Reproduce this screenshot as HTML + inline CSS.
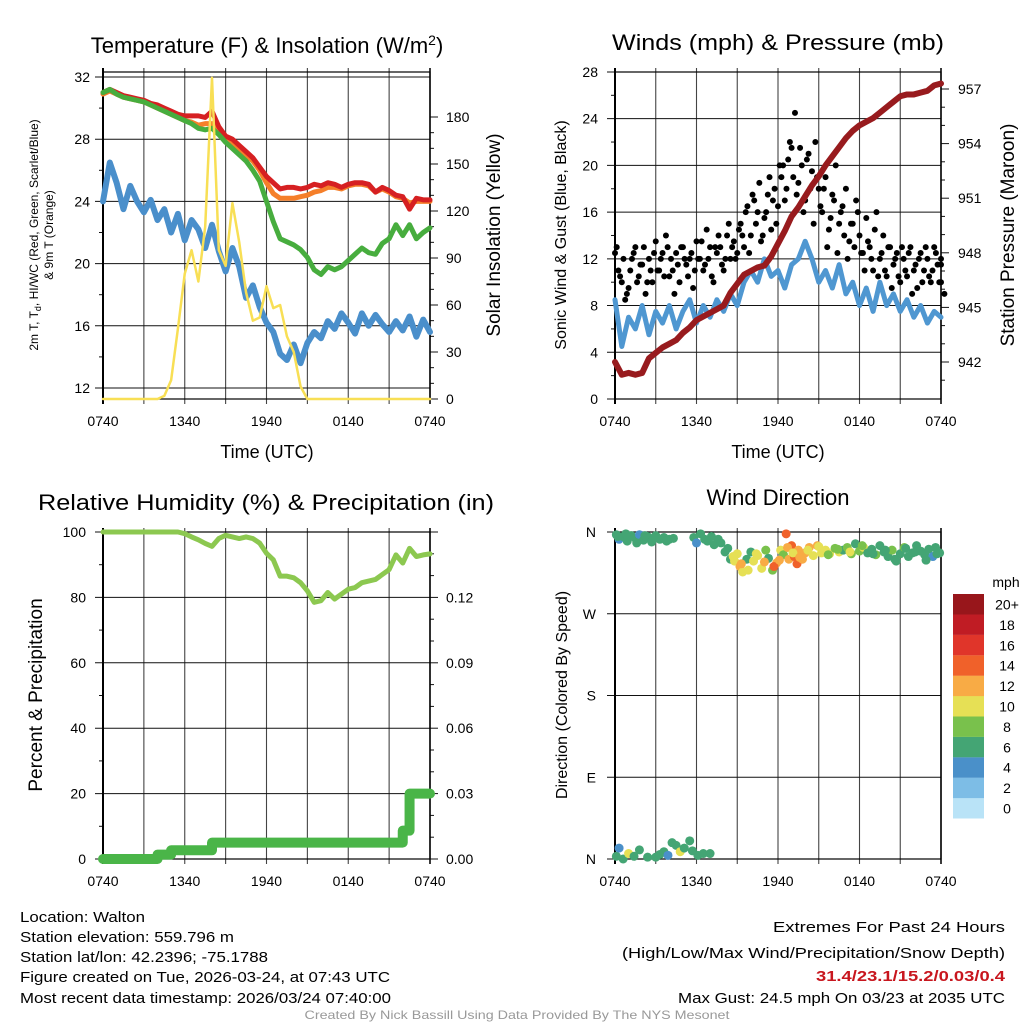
<!DOCTYPE html>
<html><head><meta charset="utf-8"><style>
html,body{margin:0;padding:0;background:#fff;}
svg{display:block;font-family:"Liberation Sans",Arial,sans-serif;}
</style></head><body>
<svg id="fig" width="1024" height="1024" viewBox="0 0 1024 1024" xmlns="http://www.w3.org/2000/svg">
<g id="titles" font-size="22" text-anchor="middle" fill="#000">
<text x="267" y="53">Temperature (F) &amp; Insolation (W/m<tspan dy="-8" font-size="14">2</tspan><tspan dy="8">)</tspan></text>
<text x="778" y="50" textLength="332" lengthAdjust="spacingAndGlyphs">Winds (mph) &amp; Pressure (mb)</text>
<text x="266" y="510" textLength="456" lengthAdjust="spacingAndGlyphs">Relative Humidity (%) &amp; Precipitation (in)</text>
<text x="778" y="505">Wind Direction</text>
</g>
<g id="footer" font-size="15" fill="#000">
<text x="20" y="922" textLength="125" lengthAdjust="spacingAndGlyphs">Location: Walton</text>
<text x="20" y="942" textLength="214" lengthAdjust="spacingAndGlyphs">Station elevation: 559.796 m</text>
<text x="20" y="962" textLength="248" lengthAdjust="spacingAndGlyphs">Station lat/lon: 42.2396; -75.1788</text>
<text x="20" y="982" textLength="370" lengthAdjust="spacingAndGlyphs">Figure created on Tue, 2026-03-24, at 07:43 UTC</text>
<text x="20" y="1003" textLength="371" lengthAdjust="spacingAndGlyphs">Most recent data timestamp: 2026/03/24 07:40:00</text>
<text x="1005" y="932" text-anchor="end" textLength="232" lengthAdjust="spacingAndGlyphs">Extremes For Past 24 Hours</text>
<text x="1005" y="958" text-anchor="end" textLength="383" lengthAdjust="spacingAndGlyphs">(High/Low/Max Wind/Precipitation/Snow Depth)</text>
<text x="1005" y="981" text-anchor="end" font-weight="bold" fill="#c8161e" textLength="189" lengthAdjust="spacingAndGlyphs">31.4/23.1/15.2/0.03/0.4</text>
<text x="1005" y="1003" text-anchor="end" textLength="327" lengthAdjust="spacingAndGlyphs">Max Gust: 24.5 mph On 03/23 at 2035 UTC</text>
<text x="517" y="1019" text-anchor="middle" font-size="12" fill="#999" textLength="425" lengthAdjust="spacingAndGlyphs">Created By Nick Bassill Using Data Provided By The NYS Mesonet</text>
</g>
</svg>
<script>
// ---- data (30-minute samples from 0740 UTC, hours 0..24) ----
const timeLabels = ["0740","1340","1940","0140","0740"];
const tempRed = [31.0,31.2,31.0,30.8,30.7,30.6,30.5,30.3,30.2,30.0,29.8,29.6,29.5,29.5,29.5,29.4,29.8,28.8,28.2,28.0,27.6,27.2,26.8,26.2,25.6,25.2,24.8,24.9,24.9,24.8,24.9,25.1,25.0,25.2,25.1,24.9,25.1,25.2,25.2,25.1,24.6,24.9,24.7,24.4,24.3,23.5,24.2,24.1,24.1];
const tempOrange = [30.9,31.1,30.9,30.7,30.6,30.5,30.4,30.2,30.0,29.8,29.6,29.4,29.2,29.1,28.9,29.0,29.0,28.6,28.0,27.8,27.4,27.0,26.6,26.0,25.2,24.5,24.2,24.2,24.2,24.3,24.4,24.6,24.7,24.9,24.9,24.8,25.0,25.1,25.1,25.0,24.6,24.8,24.6,24.3,24.2,23.9,24.0,24.0,24.0];
const tempGreen = [31.0,31.2,30.9,30.7,30.6,30.5,30.4,30.2,30.0,29.8,29.6,29.4,29.2,29.0,28.7,28.6,28.7,28.3,27.8,27.4,27.0,26.6,26.0,25.3,24.0,22.7,21.6,21.4,21.2,20.9,20.4,19.6,19.3,19.8,19.6,19.8,20.2,20.6,21.0,20.7,20.6,21.3,21.6,22.5,21.8,22.5,21.6,22.0,22.3];
const dewBlue = [24.0,26.5,25.2,23.5,25.0,24.0,23.3,24.1,22.8,23.5,22.0,23.2,21.5,22.8,22.2,21.0,22.5,20.8,19.5,21.0,19.8,17.8,18.6,17.2,16.2,15.6,14.2,13.8,14.8,13.6,14.9,15.6,15.2,16.3,15.8,16.8,16.2,15.5,16.8,16.0,16.7,16.1,15.6,16.3,15.7,16.6,15.3,16.4,15.6];
const solar = [0,0,0,0,0,0,0,0,0,2,12,45,80,95,75,110,205,95,85,125,100,68,50,52,72,58,60,40,30,8,0,0,0,0,0,0,0,0,0,0,0,0,0,0,0,0,0,0,0];
const pressure = [942.0,941.3,941.4,941.3,941.4,942.2,942.5,942.8,943.0,943.2,943.6,943.9,944.3,944.5,944.7,944.9,945.1,945.8,946.3,946.8,947.0,947.2,947.3,947.8,948.5,949.2,950.0,950.5,951.1,951.7,952.2,952.8,953.3,953.8,954.3,954.7,955.0,955.2,955.4,955.7,956.0,956.3,956.6,956.7,956.7,956.8,956.9,957.2,957.3];
const windSpeed = [8.5,4.5,7,6,8,5.5,7.5,6.5,8,6,7.5,8.5,6.5,8,7,8.5,7.5,9,8,10,11,10,12,10.5,11,9.5,11.5,12,13.5,12,10,11,9.5,11.5,9,10,8,9.5,7.5,10,8,9,7.5,8.5,7,8,6.5,7.5,7];
// gusts every 15 minutes, plus a second set offset by 7.5 minutes
const gusts = [12.5,11,10,8.5,9.5,12,13,10.5,11.5,9,12,10,13.5,
11,12.5,14,10.5,11,12.5,10,13,11.5,12,9.5,13.5,
12,11,14.5,13,10,12.5,13,11,14,12,13.5,12.5,
15,13,16.5,14,17,16,13.5,15.5,17.5,14.5,18,16.5,
19,17,20.5,21.5,24.5,18.5,20,17,21,19.5,22,18,
16,19,14.5,17.5,20,15,16.5,18,13.5,15,17,14,
12.5,15.5,13,11,16,12,14,10.5,13,11.5,12.5,10,
12,10.5,13,11,9.5,12.5,11,12,10,13,11.5,12,9];
const gustsOffset = [13,10.5,12,9,11,12.5,10,11.5,13,10,11,12.5,11,
12,10.5,13,12,9,11.5,13,12,10.5,12.5,11,12,
13.5,11.5,12,10.5,13,14,11.5,12,15,13,12,14.5,
14,16,12.5,17.5,15,18.5,14,16,19,17,15,20,
20,18,22,19,17.5,21.5,16,20.5,18,15,19,16.5,
18,13,15.5,17,12.5,16,14,12,15,13,16,12.5,
11,13.5,12,14.5,10.5,12.5,11,13,9.5,12,10.5,13,
11,12.5,9,11.5,12,10,13,10.5,11,12.5,10,11.5,10];
const rh = [100,100,100,100,100,100,100,100,100,100,100,100,99.5,98.5,97.6,96.5,95.6,98,99,98.5,98,98.5,98,96.6,93.5,91.5,86.5,86.5,86,84.5,82,78.5,79,81.5,79.5,81,82.5,83,84.5,85,85.5,87,88.5,93,90.5,95,92.5,93,93.3];
const precip = [0,0,0,0,0,0,0,0,0.002,0.002,0.004,0.004,0.004,0.004,0.004,0.004,0.0075,0.0075,0.0075,0.0075,0.0075,0.0075,0.0075,0.0075,0.0075,0.0075,0.0075,0.0075,0.0075,0.0075,0.0075,0.0075,0.0075,0.0075,0.0075,0.0075,0.0075,0.0075,0.0075,0.0075,0.0075,0.0075,0.0075,0.0075,0.013,0.03,0.03,0.03,0.03];
const dirHours = [0.1,0.3,0.6,0.9,1.2,1.5,1.8,2.1,2.4,2.7,3.0,3.3,3.6,4.0,4.3,5.8,6.0,6.3,6.8,7.3,7.6,7.8,8.1,8.3,8.5,8.8,9.0,9.2,9.4,9.7,10.0,10.2,10.5,10.8,11.1,11.3,11.6,11.9,12.2,12.4,12.6,12.8,13.0,13.2,13.4,13.5,13.8,14.0,14.3,14.6,14.9,15.2,15.5,15.8,16.2,16.5,16.8,17.1,17.4,17.7,18.0,18.3,18.6,18.9,19.2,19.5,19.8,20.1,20.4,20.7,21.0,21.3,21.6,21.9,22.2,22.5,22.8,23.1,23.4,23.7,23.9,
0.1,0.3,0.6,1.0,1.4,1.8,2.4,3.0,3.3,3.6,3.9,4.2,4.5,4.8,5.1,5.5,5.7,6.1,6.5,7.0,
0.2,0.8,1.6,2.2,2.9,3.8,6.6,7.1,8.7,9.3,9.8,10.4,11.0,11.7,12.1,12.7,13.1,13.6,14.2,15.0,15.7,16.4,17.3,18.2,19.0,19.9,20.6,21.4,22.1,22.9,23.6];
const dirDegrees = [357,352,355,350,356,353,357,351,355,349,356,352,354,352,353,354,348,358,350,346,352,348,338,342,330,328,336,322,316,330,338,328,334,320,340,331,318,326,340,335,358,330,345,333,325,340,330,337,343,334,345,337,340,336,342,338,340,343,336,347,339,343,337,341,335,345,338,333,340,328,336,343,333,337,345,339,335,341,333,336,337,
3,12,0,6,3,10,2,2,5,8,4,18,15,8,12,20,9,4,6,6,
355,358,348,356,354,350,352,355,333,325,318,336,327,322,329,343,337,332,340,344,335,341,338,345,336,340,330,342,338,329,343];
const dirSpeeds = [6,4,7,6,7,6,4,6,7,6,7,6,6,7,6,7,4,6,6,7,6,7,7,7,7,10,10,12,10,7,7,10,10,10,8,7,9,12,10,8,14,12,14,15,15,12,12,13,12,10,12,10,10,11,9,10,7,9,8,6,8,10,6,7,8,7,6,7,8,6,7,8,7,6,7,6,6,6,4,7,6,
6,4,7,10,6,6,7,6,7,7,4,7,6,10,7,7,6,6,7,7,
6,6,7,6,6,7,6,7,10,12,10,11,12,14,13,12,11,12,10,10,8,9,10,8,7,6,7,6,7,6,6];
const speedColors = ["#b9e3f7","#7dbde6","#4a90c9","#44a574","#79c14c","#e6e055","#f8ab45","#f0612a","#e0352a","#c01c24","#98161b"];
const speedLabels = ["0","2","4","6","8","10","12","14","16","18","20+"];

const NS="http://www.w3.org/2000/svg";
const svg=document.getElementById('fig');
function el(tag,parent,name,attrs){
  const e=document.createElementNS(NS,tag);
  for(const k in attrs) e.setAttribute(k,attrs[k]);
  
  
  parent.appendChild(e); return e;
}
function txt(parent,name,x,y,s,size,anchor,rot){
  const t=el('text',parent,name,{x:x,y:y,'font-size':size,'text-anchor':anchor||'middle'});
  if(rot) t.setAttribute('transform','rotate(-90 '+x+' '+y+')');
  t.textContent=s; return t;
}
function panel(name,x0,x1,y0,y1){
  const g=el('g',svg,name,{});
  return {g,x0,x1,y0,y1,xs:h=>x0+h/24*(x1-x0)};
}
function grid(P,ys,minorL,minorR){
  const g=el('g',P.g,'grid',{});
  for(let i=0;i<=8;i++){const x=P.x0+i*(P.x1-P.x0)/8;
    el('line',g,'vertical-gridline',{x1:x,x2:x,y1:P.y0-4,y2:P.y1+5,stroke:'#444','stroke-width':1.1});}
  ys.forEach(y=>el('line',g,'horizontal-gridline',{x1:P.x0-8,x2:P.x1,y1:y,y2:y,stroke:'#111','stroke-width':1}));
  (minorL||[]).forEach(y=>el('line',g,'minor-tick',{x1:P.x0-4,x2:P.x0,y1:y,y2:y,stroke:'#111','stroke-width':1}));
  (minorR||[]).forEach(y=>el('line',g,'right-tick',{x1:P.x1,x2:P.x1+(y.m?8:4),y1:y.y,y2:y.y,stroke:'#111','stroke-width':1}));
  el('rect',g,'plot-frame',{x:P.x0,y:P.y0,width:P.x1-P.x0,height:P.y1-P.y0,fill:'none',stroke:'#000','stroke-width':1.2});
  el('line',g,'left-axis-line',{x1:P.x0,x2:P.x0,y1:P.y0-4,y2:P.y1+5,stroke:'#000','stroke-width':2});
  el('line',g,'right-axis-line',{x1:P.x1,x2:P.x1,y1:P.y0-4,y2:P.y1+5,stroke:'#000','stroke-width':1.5});
  timeLabels.forEach((s,i)=>txt(P.g,'x-tick-label',P.x0+i*(P.x1-P.x0)/4,P.y1+27,s,14));
}
function poly(P,g,name,vals,yf,color,w,step){
  let d='';
  vals.forEach((v,i)=>{const x=P.xs(i*0.5),y=yf(v);
    if(i===0) d+='M'+x+' '+y; else if(step){d+='H'+x+'V'+y;} else d+='L'+x+' '+y;});
  return el('path',g,name,{d:d,fill:'none',stroke:color,'stroke-width':w,'stroke-linejoin':'round','stroke-linecap':'round'});
}

// ---- Panel 1: temperature ----
const P1=panel('temperature-panel',103,430,72,399);
const yT=v=>77+(32-v)*15.55, yS=v=>399-v*282/180;
{ const ys=[],mn=[],rt=[];
  for(let t=12;t<=32;t+=4){ys.push(yT(t)); txt(P1.g,'left-tick-label',90,yT(t)+5,String(t),14,'end');}
  for(let t=14;t<=30;t+=4) mn.push(yT(t));
  for(let s=0;s<=180;s+=10) rt.push({y:yS(s),m:s%30===0});
  for(let s=0;s<=180;s+=30) txt(P1.g,'right-tick-label',446,yS(s)+5,String(s),14,'start');
  grid(P1,ys,mn,rt);
  const g=el('g',P1.g,'series',{});
  poly(P1,g,'dewpoint-line',dewBlue,yT,'#4a8fcb',6);
  poly(P1,g,'temp-9m-line',tempOrange,yT,'#f57f2a',5);
  poly(P1,g,'temp-2m-line',tempRed,yT,'#d62022',5);
  poly(P1,g,'heat-index-line',tempGreen,yT,'#47ad3e',5);
  poly(P1,g,'solar-line',solar,yS,'#f8df55',2.5);
  const l1=txt(P1.g,'left-axis-title-line1',38,235,'2m T, T',12,'middle',true);
  const sub=document.createElementNS(NS,'tspan'); sub.setAttribute('font-size','9'); sub.setAttribute('dy','3'); sub.textContent='d'; l1.appendChild(sub);
  const rest=document.createElementNS(NS,'tspan'); rest.setAttribute('dy','-3'); rest.textContent=', HI/WC (Red, Green, Scarlet/Blue)'; l1.appendChild(rest);
  txt(P1.g,'left-axis-title-line2',53,235,'& 9m T (Orange)',12,'middle',true);
  txt(P1.g,'right-axis-title',500,235,'Solar Insolation (Yellow)',19,'middle',true);
  txt(P1.g,'x-axis-title',267,458,'Time (UTC)',18);
}

// ---- Panel 2: winds ----
const P2=panel('winds-panel',615,941,72,399);
const yW=v=>399-v*11.68, yP=v=>362-(v-942)*18.2;
{ const ys=[],mn=[],rt=[];
  for(let w=0;w<=28;w+=4){ys.push(yW(w)); txt(P2.g,'left-tick-label',598,yW(w)+5,String(w),14,'end');}
  for(let w=2;w<=26;w+=4) mn.push(yW(w));
  for(let p=941;p<=957;p+=1) rt.push({y:yP(p),m:(p-942)%3===0});
  for(let p=942;p<=957;p+=3) txt(P2.g,'right-tick-label',958,yP(p)+5,String(p),14,'start');
  grid(P2,ys,mn,rt);
  const g=el('g',P2.g,'series',{});
  poly(P2,g,'sonic-wind-line',windSpeed,yW,'#4f97d1',5);
  gusts.forEach((v,i)=>{
    el('circle',g,'gust-dot',{cx:P2.xs(i*0.25),cy:yW(v),r:3,fill:'#000'});
  });
  gustsOffset.forEach((v,i)=>{
    el('circle',g,'gust-dot',{cx:P2.xs(Math.min(24,i*0.25+0.125)),cy:yW(v),r:3,fill:'#000'});
  });
  poly(P2,g,'pressure-line',pressure,yP,'#981b1e',6);
  txt(P2.g,'left-axis-title',566,235,'Sonic Wind & Gust (Blue, Black)',16,'middle',true);
  txt(P2.g,'right-axis-title',1014,235,'Station Pressure (Maroon)',19,'middle',true);
  txt(P2.g,'x-axis-title',778,458,'Time (UTC)',18);
}

// ---- Panel 3: humidity ----
const P3=panel('humidity-panel',103,430,532,859);
const yR=v=>859-v*3.27, yPr=v=>859-v*327/0.15;
{ const ys=[],mn=[],rt=[];
  for(let r=0;r<=100;r+=20){ys.push(yR(r)); txt(P3.g,'left-tick-label',86,yR(r)+5,String(r),14,'end');}
  for(let r=10;r<=90;r+=20) mn.push(yR(r));
  for(let k=0;k<=15;k++) rt.push({y:yPr(k*0.01),m:k%3===0});
  for(let k=0;k<=12;k+=3) txt(P3.g,'right-tick-label',446,yPr(k*0.01)+5,(k/100).toFixed(2),14,'start');
  grid(P3,ys,mn,rt);
  const g=el('g',P3.g,'series',{});
  poly(P3,g,'precip-line',precip,yPr,'#4ab548',10,true);
  poly(P3,g,'humidity-line',rh,yR,'#8cc850',5);
  txt(P3.g,'left-axis-title',42,695,'Percent & Precipitation',19,'middle',true);
}

// ---- Panel 4: wind direction ----
const P4=panel('wind-direction-panel',615,941,532,859);
const yD=v=>859-v*327/360;
{ const ys=[],labs=['N','E','S','W','N'];
  for(let k=0;k<=4;k++){ys.push(yD(k*90)); txt(P4.g,'direction-tick-label',596,yD(k*90)+5,labs[k],14,'end');}
  grid(P4,ys,[],[]);
  const g=el('g',P4.g,'series',{});
  dirHours.forEach((h,i)=>{
    const ci=Math.min(10,Math.floor(dirSpeeds[i]/2));
    el('circle',g,'direction-dot',{cx:P4.xs(h),cy:yD(dirDegrees[i]),r:4.5,fill:speedColors[ci]});
  });
  txt(P4.g,'left-axis-title',567,695,'Direction (Colored By Speed)',16,'middle',true);
  const cb=el('g',svg,'speed-colorbar',{});
  txt(cb,'colorbar-title',1006,587,'mph',14,'middle');
  for(let k=0;k<11;k++){
    const y=594+(10-k)*20.4;
    el('rect',cb,'colorbar-box',{x:953,y:y,width:31,height:20.5,fill:speedColors[k]});
    txt(cb,'colorbar-label',1007,y+15.5,speedLabels[k],14,'middle');
  }
}
</script>
</body></html>
